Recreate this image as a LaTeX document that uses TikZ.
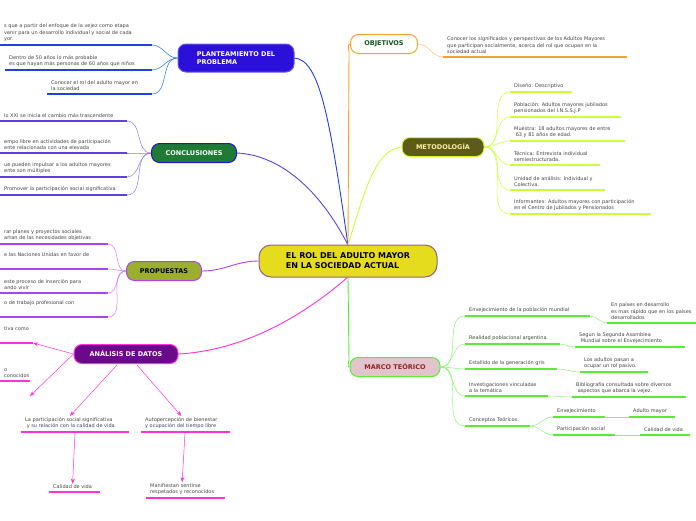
\documentclass[tikz,border=0pt]{standalone}
\usepackage{fontspec}
\setmainfont{DejaVu Sans}
\usetikzlibrary{arrows.meta, shapes, positioning}
\definecolor{cplan}{HTML}{2A10D8}
\definecolor{cconc}{HTML}{1E7A34}
\definecolor{lconc}{HTML}{6040E0}
\definecolor{cprop}{HTML}{9AB02C}
\definecolor{lprop}{HTML}{B040F0}
\definecolor{canal}{HTML}{6A0A8A}
\definecolor{lanal}{HTML}{FF30E0}
\definecolor{cobj}{HTML}{F8A030}
\definecolor{cmet}{HTML}{5E5A18}
\definecolor{lmet}{HTML}{CCFF33}
\definecolor{cmarco}{HTML}{E4C4CC}
\definecolor{lmarco}{HTML}{55EE33}
\definecolor{ccen}{HTML}{E6DC1E}
\definecolor{leaftext}{HTML}{444444}
\tikzset{
  branch/.style = {rounded corners=8pt, line width=1pt, minimum height=19pt,
    font=\fontsize{6.5}{8}\selectfont\bfseries, align=left, inner xsep=8pt},
  leaftxt/.style = {anchor=south west, inner sep=1pt, align=left,
    font=\fontsize{5}{6.6}\selectfont, text=leaftext},
  link/.style = {line width=0.9pt},
  sublink/.style = {line width=0.5pt}
}
% leaf: name, x1, x2, y, colour, text
\newcommand{\leaf}[6]{%
  \draw[#5, line width=1.4pt] (#2,#4) coordinate (#1-l) -- (#3,#4) coordinate (#1-r);
  \node[leaftxt] (#1) at ([xshift=3pt,yshift=2pt]#1-l) {#6};
}

\begin{document}
\begin{tikzpicture}[x=1pt, y=-1pt]
    \useasboundingbox (0,0) rectangle (696,520);

    %% Centre
    \node[branch, fill=ccen, draw=cobj!60!blue, rounded corners=12pt,
      minimum width=178pt, minimum height=32pt, font=\fontsize{8}{10}\selectfont\bfseries]
      (centre) at (348,261) {EL ROL DEL ADULTO MAYOR\\EN LA SOCIEDAD ACTUAL};
    \coordinate (top) at (348,245);
    \coordinate (bot) at (348,277);

    %% Planteamiento del problema
    \node[branch, fill=cplan, draw=cplan!70!white, text=white, minimum width=116pt, minimum height=28pt]
      (plan) at (236,58) {PLANTEAMIENTO DEL\\PROBLEMA};
    \draw[link, cplan!80!cyan] (top) .. controls (330,120) and (320,60) .. (plan.east);
    \leaf{p1}{0}{152}{45}{cplan!80!cyan}{s que a partir del enfoque de la vejez como etapa\\venir para un desarrollo individual y social de cada\\yor.}
    \leaf{p2}{5}{152}{70}{cplan!80!cyan}{Dentro de 50 años lo más probable\\es que hayan más personas de 60 años que niños}
    \leaf{p3}{47}{152}{94}{cplan!80!cyan}{Conocer el rol del adulto mayor en\\la sociedad}
    \foreach \p in {p1,p2,p3}
      \draw[sublink, cplan!60!cyan] (plan.west) to[out=180, in=0] (\p-r);

    %% Conclusiones
    \node[branch, fill=cconc, draw=cplan, text=white, minimum width=85pt]
      (conc) at (194,153) {CONCLUSIONES};
    \draw[link, lconc] (top) .. controls (320,190) and (280,155) .. (conc.east);
    \leaf{c1}{0}{127}{121}{lconc}{lo XXI se inicia el cambio más trascendente}
    \leaf{c2}{0}{127}{153}{lconc}{empo libre en actividades de participación\\ente relacionada con una elevada}
    \leaf{c3}{0}{127}{177}{lconc}{ue pueden impulsar a los adultos mayores\\ente son múltiples}
    \leaf{c4}{0}{127}{195}{lconc}{Promover la participación social significativa}
    \foreach \c in {c1,c2,c3,c4}
      \draw[sublink, lconc!70!white] (conc.west) to[out=180, in=0] (\c-r);

    %% Propuestas
    \node[branch, fill=cprop, draw=lprop, minimum width=75pt]
      (prop) at (164,271) {PROPUESTAS};
    \draw[link, lprop] (prop.east) to[out=0, in=180] (centre.west);
    \leaf{r1}{0}{108}{244}{lprop}{rar planes y proyectos sociales\\artan de las necesidades objetivas}
    \leaf{r2}{0}{108}{269}{lprop}{e las Naciones Unidas en favor de\\[3pt]}
    \leaf{r3}{0}{108}{293}{lprop}{este proceso de inserción para\\ando vivir}
    \leaf{r4}{0}{108}{317}{lprop}{o de trabajo profesional con\\[3pt]}
    \foreach \r in {r1,r2,r3,r4}
      \draw[sublink, lprop!70!white] (prop.west) to[out=180, in=0] (\r-r);

    %% Analisis de datos
    \node[branch, fill=canal, draw=lanal, text=white, minimum width=104pt]
      (anal) at (126,354) {ANÁLISIS DE DATOS};
    \draw[link, lanal] (anal.east) .. controls (250,350) and (310,310) .. (bot);
    \leaf{a1}{0}{33}{343}{lanal}{tiva como\\[3pt]}
    \leaf{a2}{0}{30}{381}{lanal}{o\\conocidos}
    \leaf{a3}{21}{129}{432}{lanal}{La participación social significativa\\\ y su relación con la calidad de vida}
    \leaf{a4}{141}{230}{432}{lanal}{Autopercepción de bienestar\\y ocupación del tiempo libre}
    \leaf{a5}{49}{100}{492}{lanal}{Calidad de vida}
    \leaf{a6}{146}{225}{498}{lanal}{Manifiestan sentirse\\respetados y reconocidos}
    \draw[sublink, lanal, -Stealth] (anal.west) -- (a1-r);
    \draw[sublink, lanal, -Stealth] (anal.west) -- ([yshift=-15pt]a2-r);
    \draw[sublink, lanal, -Stealth] (117,365) -- (a3.north);
    \draw[sublink, lanal, -Stealth] (137,365) -- (a4.north);
    \draw[sublink, lanal, -Stealth] (75,433) -- (a5.north);
    \draw[sublink, lanal, -Stealth] (185,433) -- (a6.north);

    %% Objetivos
    \node[branch, fill=white, draw=cobj, text=cconc!70!black, minimum width=67pt]
      (obj) at (384,44) {OBJETIVOS};
    \draw[link, cobj] (top) -- (349,52) to[out=90, in=180] (obj.west);
    \leaf{o1}{443}{627}{57}{cobj}{Conocer los significados y perspectivas de los Adultos Mayores\\que participan socialmente, acerca del rol que ocupan en la\\sociedad actual}
    \draw[sublink, cobj!70!white] (obj.east) to[out=0, in=180] (o1-l);

    %% Metodologia
    \node[branch, fill=cmet, draw=lmet, text=ccen!40!white, minimum width=82pt]
      (met) at (443,147) {METODOLOGÍA};
    \draw[link, lmet] (top) .. controls (365,190) and (375,150) .. (met.west);
    \leaf{m1}{510}{572}{92}{lmet}{Diseño: Descriptivo}
    \leaf{m2}{510}{621}{117}{lmet}{Población: Adultos mayores jubilados\\pensionados del I.N.S.S.J.P}
    \leaf{m3}{510}{625}{141}{lmet}{Muestra: 18 adultos mayores de entre\\\ 63 y 81 años de edad.}
    \leaf{m4}{510}{600}{165}{lmet}{Técnica: Entrevista individual\\semiestructurada.}
    \leaf{m5}{510}{605}{190}{lmet}{Unidad de análisis: Individual y\\Colectiva.}
    \leaf{m6}{510}{651}{214}{lmet}{Informantes: Adultos mayores con participación\\en el Centro de Jubilados y Pensionados}
    \foreach \m in {m1,m2,m3,m4,m5,m6}
      \draw[sublink, lmet] (met.east) to[out=0, in=180] (\m-l);

    %% Marco teorico
    \node[branch, fill=cmarco, draw=lmarco, text=cmarco!30!black!60!red, minimum width=90pt]
      (marco) at (395,367) {MARCO TEÓRICO};
    \draw[link, lmarco] (bot) -- (349,360) to[out=-90, in=180] (marco.west);
    \leaf{t1}{465}{590}{316}{lmarco}{Envejecimiento de la población mundial}
    \leaf{t2}{465}{560}{344}{lmarco}{Realidad poblacional argentina}
    \leaf{t3}{465}{557}{369}{lmarco}{Estallido de la generación gris}
    \leaf{t4}{465}{548}{396}{lmarco}{Investigaciones vinculadas\\a la temática}
    \leaf{t5}{465}{530}{426}{lmarco}{Conceptos Teóricos:}
    \foreach \t in {t1,t2,t3,t4,t5}
      \draw[sublink, lmarco!70!white] (marco.east) to[out=0, in=180] (\t-l);
    \leaf{u1}{607}{696}{323}{lmarco}{En países en desarrollo\\es mas rápido que en los países\\desarrollados}
    \leaf{u2}{575}{685}{347}{lmarco}{Segun la Segunda Asamblea\\\ Mundial sobre el Envejecimiento}
    \leaf{u3}{580}{648}{372}{lmarco}{Los adultos pasan a\\ocupar un rol pasivo.}
    \leaf{u4}{572}{686}{397}{lmarco}{Bibliografía consultada sobre diversos\\\ aspectos que abarca la vejez.}
    \leaf{v1}{553}{605}{417}{lmarco}{Envejecimiento}
    \leaf{v2}{553}{615}{435}{lmarco}{Participación social}
    \leaf{w1}{629}{675}{417}{lmarco}{Adulto mayor}
    \leaf{w2}{640}{690}{435}{lmarco}{Calidad de vida}
    \draw[sublink, lmarco!70!white] (t1-r) to[out=0, in=180] (u1-l);
    \draw[sublink, lmarco!70!white] (t2-r) to[out=0, in=180] (u2-l);
    \draw[sublink, lmarco!70!white] (t3-r) to[out=0, in=180] (u3-l);
    \draw[sublink, lmarco!70!white] (t4-r) to[out=0, in=180] (u4-l);
    \draw[sublink, lmarco!70!white] (t5-r) to[out=0, in=180] (v1-l);
    \draw[sublink, lmarco!70!white] (t5-r) to[out=0, in=180] (v2-l);
    \draw[sublink, lmarco!70!white] (v1-r) -- (w1-l);
    \draw[sublink, lmarco!70!white] (v2-r) -- (w2-l);

\end{tikzpicture}
\end{document}
